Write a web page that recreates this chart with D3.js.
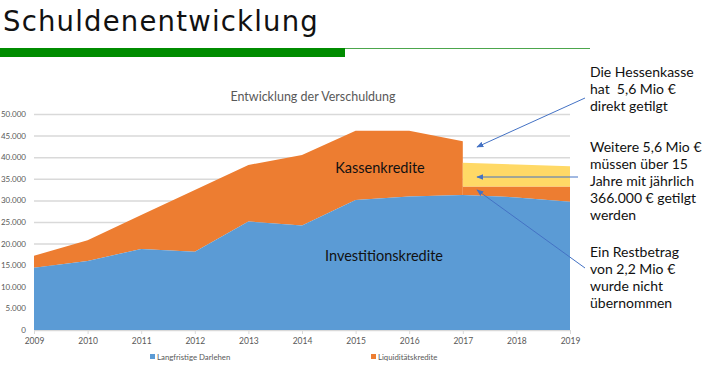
<!DOCTYPE html>
<html>
<head>
<meta charset="utf-8">
<script src="https://cdn.jsdelivr.net/npm/d3@7"></script>
<style>
  body { margin: 0; background: #fff; }
  svg { display: block; }
  text { white-space: pre; }
</style>
</head>
<body>
<div id="chart"></div>
<script>
// Values (in thousand euro).
const YEARS = [2009, 2010, 2011, 2012, 2013, 2014, 2015, 2016, 2017, 2018, 2019];
const DARLEHEN = [14400, 16000, 18750, 18100, 25100, 24200, 30100, 30900, 31250, 30700, 29700];
const KREDIT_YEARS = [2009, 2010, 2011, 2012, 2013, 2014, 2015, 2016, 2017];
const KREDITE = [2800, 4800, 7850, 14300, 13100, 16300, 16000, 15200, 12450];
const REST_YEARS = [2017, 2018, 2019];
const REST_TOP = [33200, 33200, 33200];
const TILGUNG_TOP = [38700, 38300, 37900];
const Y_TICKS = [0, 5000, 10000, 15000, 20000, 25000, 30000, 35000, 40000, 45000, 50000];
const LEGEND = ['Langfristige Darlehen', 'Liquiditätskredite'];
const NOTES = [
    ['Die Hessenkasse', 'hat  5,6 Mio €', 'direkt getilgt'],
    ['Weitere 5,6 Mio €', 'müssen über 15', 'Jahre mit jährlich', '366.000 € getilgt', 'werden'],
    ['Ein Restbetrag', 'von 2,2 Mio €', 'wurde nicht', 'übernommen']
];

const BLUE = '#5b9bd5';
const ORANGE = '#ed7d31';
const YELLOW = '#ffd966';
const ARROW = '#4472c4';
const FONT = 'Lato, "Open Sans", sans-serif';

const svg = d3.select('#chart').append('svg')
    .attr('width', 710)
    .attr('height', 375);

// Slide header.
svg.append('text')
    .attr('x', 3)
    .attr('y', 31)
    .attr('font-family', '"DejaVu Sans", Verdana, sans-serif')
    .attr('font-size', 27.5)
    .attr('letter-spacing', 1.2)
    .attr('fill', '#111')
    .text('Schuldenentwicklung');

svg.append('line')
    .attr('x1', 345).attr('x2', 590)
    .attr('y1', 48.5).attr('y2', 48.5)
    .attr('stroke', '#4ca64c')
    .attr('stroke-width', 1);

svg.append('rect')
    .attr('x', 0).attr('y', 48)
    .attr('width', 345).attr('height', 9)
    .attr('fill', '#008c00');

// Scales.
const x = d3.scaleLinear().domain([2009, 2019]).range([34, 570]);
const y = d3.scaleLinear().domain([0, 50000]).range([330, 114]);

// Chart title.
svg.append('text')
    .attr('x', 313)
    .attr('y', 101)
    .attr('text-anchor', 'middle')
    .attr('font-family', FONT)
    .attr('font-size', 12.5)
    .attr('fill', '#595959')
    .text('Entwicklung der Verschuldung');

// Gridlines + y axis labels.
const yAxis = d3.axisLeft(y)
    .tickValues(Y_TICKS)
    .tickSize(-(x.range()[1] - x.range()[0]))
    .tickPadding(8)
    .tickFormat(d => d3.format(',')(d).replace(/,/g, '.'));

svg.append('g')
    .attr('transform', `translate(${x.range()[0]},0)`)
    .call(yAxis)
    .call(g => g.select('.domain').remove())
    .call(g => g.selectAll('.tick line').attr('stroke', '#d9d9d9').attr('stroke-width', 1.5))
    .call(g => g.selectAll('.tick text')
        .attr('font-family', FONT)
        .attr('font-size', 8)
        .attr('fill', '#595959'));

// Areas.
const blueData = YEARS.map((yr, i) => ({ yr, lo: 0, hi: DARLEHEN[i] }));
const orangeData = KREDIT_YEARS.map((yr, i) => ({ yr, lo: DARLEHEN[i], hi: DARLEHEN[i] + KREDITE[i] }));
const restData = REST_YEARS.map((yr, i) => ({ yr, lo: DARLEHEN[YEARS.indexOf(yr)], hi: REST_TOP[i] }));
const tilgData = REST_YEARS.map((yr, i) => ({ yr, lo: REST_TOP[i], hi: TILGUNG_TOP[i] }));

const area = d3.area()
    .x(d => x(d.yr))
    .y0(d => y(d.lo))
    .y1(d => y(d.hi));

svg.append('path').datum(orangeData).attr('d', area).attr('fill', ORANGE);
svg.append('path').datum(restData).attr('d', area).attr('fill', ORANGE);
svg.append('path').datum(tilgData).attr('d', area).attr('fill', YELLOW);
svg.append('path').datum(blueData).attr('d', area).attr('fill', BLUE);

// X axis labels.
const xAxis = d3.axisBottom(x)
    .tickValues(YEARS)
    .tickSize(4)
    .tickPadding(4)
    .tickFormat(d3.format('d'));

svg.append('g')
    .attr('transform', `translate(0,${y(0)})`)
    .call(xAxis)
    .call(g => g.select('.domain').attr('stroke', '#d9d9d9'))
    .call(g => g.selectAll('.tick line').attr('stroke', '#d9d9d9'))
    .call(g => g.selectAll('.tick text')
        .attr('font-family', FONT)
        .attr('font-size', 8.5)
        .attr('fill', '#595959'));

// Legend.
const legend = svg.append('g').attr('font-family', FONT).attr('font-size', 7.8).attr('fill', '#595959');
[[150, BLUE], [371, ORANGE]].forEach(([lx, col], i) => {
    legend.append('rect').attr('x', lx).attr('y', 354).attr('width', 5).attr('height', 5).attr('fill', col);
    legend.append('text').attr('x', lx + 7).attr('y', 360).text(LEGEND[i]);
});

// Labels inside areas.
svg.append('text')
    .attr('x', 380).attr('y', 173)
    .attr('text-anchor', 'middle')
    .attr('font-family', FONT)
    .attr('font-size', 14.5)
    .attr('fill', '#111')
    .text('Kassenkredite');

svg.append('text')
    .attr('x', 384).attr('y', 261)
    .attr('text-anchor', 'middle')
    .attr('font-family', FONT)
    .attr('font-size', 14.5)
    .attr('fill', '#111')
    .text('Investitionskredite');

// Annotation notes on the right.
const noteTop = [77, 152, 257];
NOTES.forEach((lines, i) => {
    const t = svg.append('text')
        .attr('font-family', FONT)
        .attr('font-size', 14)
        .attr('fill', '#111');
    lines.forEach((ln, j) => {
        t.append('tspan').attr('x', 590).attr('y', noteTop[i] + j * 17).text(ln);
    });
});

// Arrows.
svg.append('defs').append('marker')
    .attr('id', 'head')
    .attr('viewBox', '0 0 10 10')
    .attr('refX', 9).attr('refY', 5)
    .attr('markerWidth', 7).attr('markerHeight', 7)
    .attr('orient', 'auto')
    .append('path')
    .attr('d', 'M0,1 L10,5 L0,9 z')
    .attr('fill', ARROW);

const arrows = [
    { from: [585, 98], to: [477, 147] },
    { from: [578, 177], to: [477, 177] },
    { from: [585, 268], to: [477, 190] }
];
arrows.forEach(a => {
    svg.append('line')
        .attr('x1', a.from[0]).attr('y1', a.from[1])
        .attr('x2', a.to[0]).attr('y2', a.to[1])
        .attr('stroke', ARROW)
        .attr('stroke-width', 1)
        .attr('marker-end', 'url(#head)');
});
</script>
</body>
</html>
